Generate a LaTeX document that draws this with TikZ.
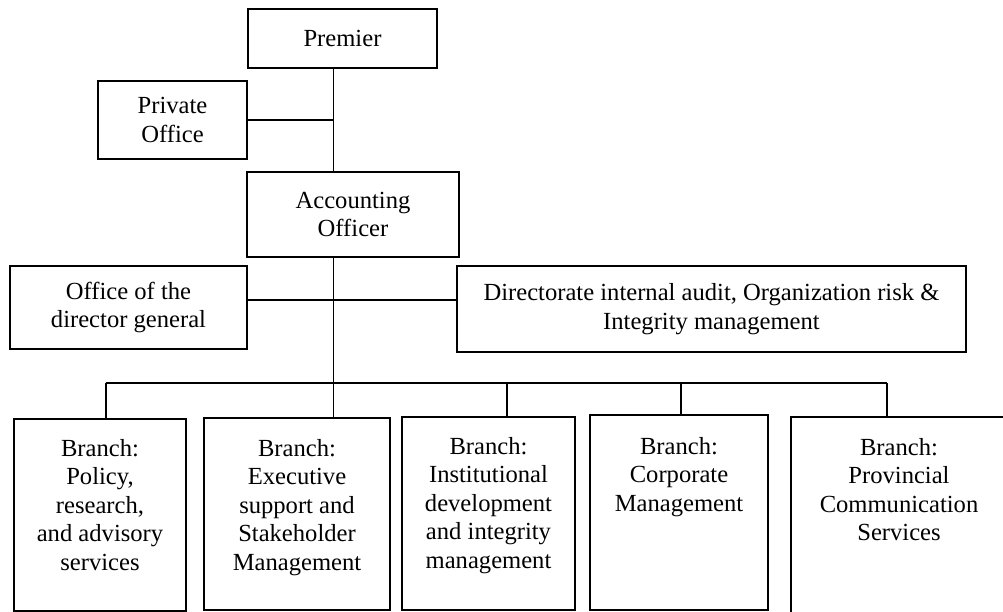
\documentclass[tikz,border=0pt]{standalone}
\usepackage{fontspec}
\setmainfont{Liberation Serif}
\begin{document}
\begin{tikzpicture}[x=1pt,y=-1pt,
  unit/.style={draw=black, line width=2.1pt, inner sep=0pt, align=center,
    font=\fontsize{24.6}{28.5}\selectfont},
  caption/.style={inner sep=0pt, align=center, anchor=north,
    font=\fontsize{24.6}{28.5}\selectfont},
  link/.style={draw=black, line width=1.8pt}]
\useasboundingbox (0,0) rectangle (1003,612);
\clip (0,0) rectangle (1003,612);

% upper levels
\node[unit, minimum width=189pt, minimum height=59pt] (premier) at (342.5,38.5) {Premier};
\node[unit, minimum width=149pt, minimum height=78pt] (private) at (172.5,120) {Private\\Office};
\node[unit, minimum width=212pt, minimum height=85pt] (acct) at (353,214.5) {Accounting\\Officer};
\node[unit, minimum width=237pt, minimum height=83pt] (odg) at (128.5,307.5) {Office of the\\director general};
\node[unit, minimum width=509pt, minimum height=86pt] (dir) at (711.5,309) {Directorate internal audit, Organization risk \&\\Integrity management};

% branches
\node[unit, minimum width=172pt, minimum height=192pt] (b1) at (100,515) {};
\node[unit, minimum width=186pt, minimum height=192pt] (b2) at (297,514) {};
\node[unit, minimum width=173pt, minimum height=193pt] (b3) at (488.5,513.5) {};
\node[unit, minimum width=178pt, minimum height=195pt] (b4) at (679,512.5) {};
\node[unit, minimum width=216pt, minimum height=213pt] (b5) at (899,523.5) {};

\node[caption] (t1) at (b1.center |- 0,439) {Branch:\\Policy,\\research,\\and advisory\\services};
\node[caption] (t2) at (b2.center |- 0,439) {Branch:\\Executive\\support and\\Stakeholder\\Management};
\node[caption] (t3) at (b3.center |- 0,437) {Branch:\\Institutional\\development\\and integrity\\management};
\node[caption] (t4) at (b4.center |- 0,437) {Branch:\\Corporate\\Management};
\node[caption] (t5) at (b5.center |- 0,438) {Branch:\\Provincial\\Communication\\Services};

% reporting lines
\coordinate (spine) at (333.5,0);
\coordinate (side) at (0,300);
\coordinate (d1) at (106,383);
\coordinate (d3) at (507,383);
\coordinate (d4) at (681,383);
\coordinate (d5) at (887,383);

\path[link] (premier.south -| spine) -- (acct.north -| spine);
\path[link] (private.east) -- (private.east -| spine);
\path[link] (acct.south -| spine) -- (b2.north -| spine);
\path[link] (odg.east |- side) -- (dir.west |- side);
\path[link] (d1) -- (d5);
\path[link] (d1) -- (d1 |- b1.north);
\path[link] (d3) -- (d3 |- b3.north);
\path[link] (d4) -- (d4 |- b4.north);
\path[link] (d5) -- (d5 |- b5.north);
\end{tikzpicture}
\end{document}
